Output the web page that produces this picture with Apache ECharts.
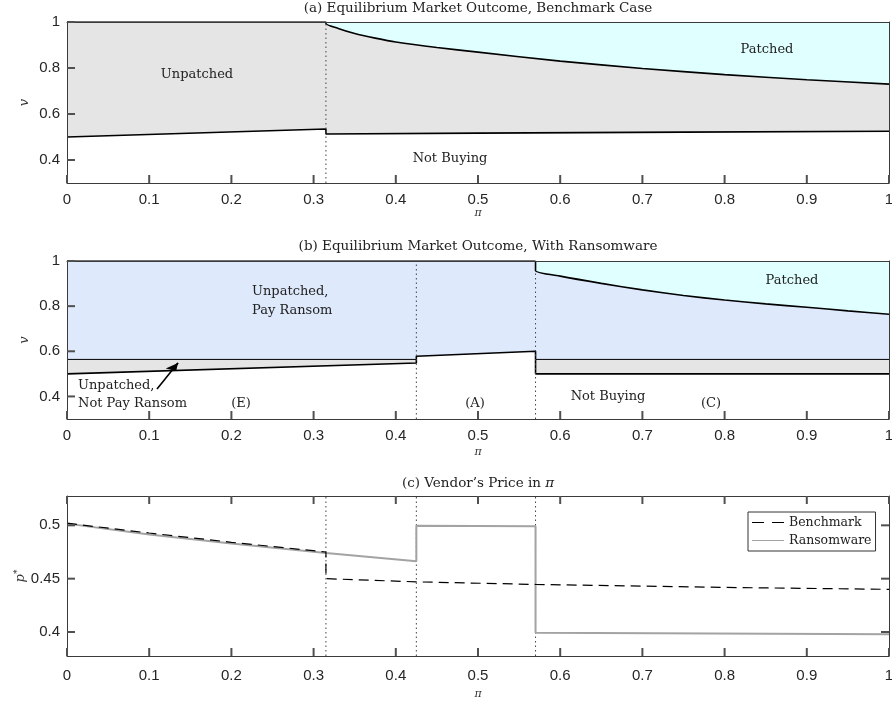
<!DOCTYPE html>
<html>
<head>
<meta charset="utf-8">
<script src="https://cdn.jsdelivr.net/npm/echarts@6/dist/echarts.min.js"></script>
<style>html,body{margin:0;padding:0;background:#fff}#c{width:892px;height:705px}</style>
</head>
<body>
<div id="c"></div>
<script>
// ---------- DATA ----------
// Panel (a): benchmark
const piA_cut = 0.315;
const piA_patch = [0.315, 0.315, 0.33, 0.35, 0.375, 0.4, 0.45, 0.5, 0.6, 0.7, 0.8, 0.9, 1.0];
const vA_patch  = [1.0, 0.994, 0.972, 0.950, 0.930, 0.913, 0.889, 0.869, 0.830, 0.798, 0.771, 0.749, 0.730];
const piA_low = [0, 0.315, 0.315, 0.5, 0.75, 1.0];
const vA_low  = [0.500, 0.535, 0.513, 0.517, 0.521, 0.525];

// Panel (b): with ransomware
const piB_cuts = [0.425, 0.57];
const piB_patch = [0.57, 0.57, 0.6, 0.65, 0.7, 0.75, 0.8, 0.85, 0.9, 0.95, 1.0];
const vB_patch  = [1.0, 0.957, 0.933, 0.901, 0.872, 0.847, 0.827, 0.810, 0.795, 0.779, 0.764];
const piB_thr1 = [0, 0.425];
const piB_thr2 = [0.57, 1.0];
const vB_thr = 0.564;
const piB_low = [0, 0.425, 0.425, 0.57, 0.57, 1.0];
const vB_low  = [0.500, 0.548, 0.578, 0.600, 0.500, 0.500];
const arrowFrom = [0.1095, 0.433];
const arrowTo   = [0.135, 0.548];

// Panel (c): vendor's price
const piC_bench = [0, 0.1, 0.2, 0.315, 0.315, 0.425, 0.57, 0.8, 1.0];
const pC_bench  = [0.502, 0.4928, 0.4841, 0.475, 0.450, 0.447, 0.4446, 0.4418, 0.440];
const piC_ransom = [0, 0.1, 0.2, 0.315, 0.425, 0.425, 0.57, 0.57, 1.0];
const pC_ransom  = [0.5016, 0.4915, 0.4830, 0.4741, 0.4664, 0.4997, 0.4992, 0.3993, 0.3978];
const piC_cuts = [0.315, 0.425, 0.57];

const xTicks = [0, 0.1, 0.2, 0.3, 0.4, 0.5, 0.6, 0.7, 0.8, 0.9, 1];
const vTicks = [0.4, 0.6, 0.8, 1];
const pTicks = [0.4, 0.45, 0.5];

// ---------- HELPERS ----------
const zip = (xs, ys) => xs.map((x, i) => [x, Array.isArray(ys) ? ys[i] : ys]);
const SERIF = 'DejaVu Serif';
const SANS = 'Liberation Sans';
const AX = '#3a3a3a';
const TK = '#505050';
const LBL = '#262626';
const C_GRAY = '#e5e5e5', C_CYAN = '#e0ffff', C_BLUE = '#dee9fc';
const TICK_LEN = 8;

function fill(xi, data, color, z, line, smooth) {
  return {
    type: 'line', xAxisIndex: xi, yAxisIndex: xi, data: data, showSymbol: false, symbol: 'none', silent: true,
    z: z, smooth: smooth || false, areaStyle: { color: color, opacity: 1, origin: 'start' },
    lineStyle: line ? line : { width: 0, opacity: 0 }, animation: false
  };
}
function line(xi, data, style, z, name) {
  const s = { type: 'line', xAxisIndex: xi, yAxisIndex: xi, data: data, showSymbol: false,
    symbol: 'none', silent: true, z: z, lineStyle: style, animation: false };
  if (name) { s.name = name; s.itemStyle = { color: style.color }; }
  return s;
}
// inside tick marks, placed through the axis scales
function ticks(g, vals, side, yrange) {
  const isX = side === 'bottom' || side === 'top';
  const data = vals.map(v => isX ? [v, side === 'bottom' ? yrange[0] : yrange[1]] : [side === 'left' ? 0 : 1, v]);
  return {
    type: 'custom', xAxisIndex: g, yAxisIndex: g, data: data, silent: true, z: 20, clip: false, animation: false,
    renderItem: function (params, api) {
      const p = api.coord([api.value(0), api.value(1)]);
      let dx = 0, dy = 0;
      if (side === 'bottom') dy = -TICK_LEN; else if (side === 'top') dy = TICK_LEN;
      else if (side === 'left') dx = TICK_LEN; else dx = -TICK_LEN;
      return { type: 'line', shape: { x1: p[0], y1: p[1], x2: p[0] + dx, y2: p[1] + dy },
        style: { stroke: TK, lineWidth: 2 } };
    }
  };
}
const dotted = { color: '#444', width: 1, type: [1.5, 3] };
const thick = { color: '#000', width: 1.6 };

const grids = [
  { left: 67, top: 22, width: 822, height: 161, outerBoundsMode: 'none', containLabel: false },
  { left: 67, top: 261, width: 822, height: 158, outerBoundsMode: 'none', containLabel: false },
  { left: 67, top: 496, width: 822, height: 160, outerBoundsMode: 'none', containLabel: false }
];
const yr = [[0.3, 1], [0.3, 1], [0.3775, 0.5275]];
const yt = [vTicks, vTicks, pTicks];
const xNameGap = [25, 28, 33];
const xLabelMargin = [9, 9, 12];

const xAxis = [], yAxis = [];
for (let g = 0; g < 3; g++) {
  xAxis.push({
    type: 'value', gridIndex: g, min: 0, max: 1, z: 10,
    name: 'π', nameLocation: 'middle', nameGap: xNameGap[g], nameMoveOverlap: false,
    nameTextStyle: { fontFamily: SERIF, fontStyle: 'italic', fontSize: 11, color: '#333' },
    axisLine: { show: true, onZero: false, lineStyle: { color: AX, width: 1 } },
    axisTick: { show: false },
    axisLabel: { show: true, fontFamily: SANS, fontSize: 15, color: LBL, margin: xLabelMargin[g], customValues: xTicks },
    splitLine: { show: false }
  });
  yAxis.push({
    type: 'value', gridIndex: g, min: yr[g][0], max: yr[g][1], z: 10,
    name: g === 2 ? '{i|p}{s|*}' : 'v', nameLocation: 'middle', nameGap: g === 2 ? 39 : 36, nameMoveOverlap: false,
    nameTextStyle: { fontFamily: SERIF, fontStyle: 'italic', fontSize: 13, color: '#333',
      rich: { i: { fontFamily: SERIF, fontStyle: 'italic', fontSize: 13, color: '#333' },
              s: { fontFamily: SERIF, fontSize: 9, color: '#333', verticalAlign: 'top', padding: [0, 0, 6, 0] } } },
    axisLine: { show: true, onZero: false, lineStyle: { color: AX, width: 1 } },
    axisTick: { show: false },
    axisLabel: { fontFamily: SANS, fontSize: 15, color: LBL, margin: 7, customValues: yt[g] },
    splitLine: { show: false }
  });
}
// mirror (box) axes
for (let g = 0; g < 3; g++) {
  xAxis.push({
    type: 'value', gridIndex: g, min: 0, max: 1, position: 'top', z: 10,
    axisLine: { show: true, onZero: false, lineStyle: { color: AX, width: 1 } },
    axisTick: { show: false }, axisLabel: { show: false }, splitLine: { show: false }
  });
  yAxis.push({
    type: 'value', gridIndex: g, min: yr[g][0], max: yr[g][1], position: 'right', z: 10,
    axisLine: { show: true, onZero: false, lineStyle: { color: AX, width: 1 } },
    axisTick: { show: false }, axisLabel: { show: false }, splitLine: { show: false }
  });
}

const series = [];
// ----- (a)
series.push(fill(0, [[piA_cut, 1], [1, 1]], C_CYAN, 1));
series.push(fill(0, [[0, 1]].concat(zip(piA_patch, vA_patch)), C_GRAY, 2, thick, 0.25));
series.push(fill(0, zip(piA_low, vA_low), '#ffffff', 3, thick));
series.push(line(0, [[piA_cut, 0.3], [piA_cut, 0.994]], dotted, 5));
// ----- (b)
series.push(fill(1, [[0, 1], [1, 1]], C_BLUE, 1));
series.push(fill(1, [[piB_cuts[1], 1], [1, 1]], C_CYAN, 2));
series.push(fill(1, zip(piB_patch, vB_patch), C_BLUE, 3, thick, 0.2));
series.push(fill(1, zip(piB_thr1, vB_thr), C_GRAY, 4, { color: '#000', width: 1 }));
series.push(fill(1, zip(piB_thr2, vB_thr), C_GRAY, 4, { color: '#000', width: 1 }));
series.push(fill(1, zip(piB_low, vB_low), '#ffffff', 5, thick));
series.push(line(1, [[0, 1], [piB_cuts[1], 1]], thick, 6));
piB_cuts.forEach((c, i) => series.push(line(1, [[c, 0.3], [c, i === 1 ? 0.957 : 1]], dotted, 7)));
// arrow: shaft + head
series.push(line(1, [arrowFrom, arrowTo], { color: '#000', width: 1.6 }, 9));
series.push({
  type: 'line', xAxisIndex: 1, yAxisIndex: 1, data: [], silent: true, z: 9, animation: false,
  markLine: { silent: true, animation: false, symbol: ['none', 'arrow'], symbolSize: [9, 12],
    label: { show: false }, lineStyle: { color: '#000', width: 1.6, type: 'solid' },
    data: [[{ coord: arrowFrom }, { coord: arrowTo }]] }
});
// ----- (c)
piC_cuts.forEach(c => series.push(line(2, [[c, 0.3775], [c, 0.5275]], dotted, 3)));
series.push(line(2, zip(piC_bench, pC_bench), { color: '#000', width: 1.2, type: [10, 6] }, 5, 'Benchmark'));
series.push(line(2, zip(piC_ransom, pC_ransom), { color: '#a3a3a3', width: 2 }, 4, 'Ransomware'));
// ----- ticks (bottom/left on all panels; full box on panel c)
for (let g = 0; g < 3; g++) {
  series.push(ticks(g, xTicks, 'bottom', yr[g]));
  series.push(ticks(g, yt[g], 'left', yr[g]));
}
series.push(ticks(2, xTicks, 'top', yr[2]));
series.push(ticks(2, yt[2], 'right', yr[2]));

function txt(x, y, s, align, size) {
  return { type: 'text', x: x, y: y, z: 100, silent: true,
    style: { text: s, fill: '#222', font: (size || 13) + 'px "' + SERIF + '"', align: align || 'center', verticalAlign: 'middle' } };
}
const richPi = { r: { fontFamily: SERIF, fontSize: 13.5, fill: '#222' }, i: { fontFamily: SERIF, fontStyle: 'italic', fontSize: 13.5, fill: '#222' } };
const graphic = [
  txt(478, 8, '(a) Equilibrium Market Outcome, Benchmark Case', 'center', 13.5),
  txt(197, 75, 'Unpatched'),
  txt(767, 50, 'Patched'),
  txt(450, 159, 'Not Buying'),
  txt(478, 246, '(b) Equilibrium Market Outcome, With Ransomware', 'center', 13.5),
  txt(252, 292, 'Unpatched,', 'left'),
  txt(252, 311, 'Pay Ransom', 'left'),
  txt(792, 281, 'Patched'),
  txt(78, 386, 'Unpatched,', 'left'),
  txt(78, 404, 'Not Pay Ransom', 'left'),
  txt(241, 404, '(E)'),
  txt(475, 404, '(A)'),
  txt(711, 404, '(C)'),
  txt(608, 397, 'Not Buying'),
  { type: 'text', x: 478, y: 483, z: 100, silent: true,
    style: { text: '{r|(c) Vendor\u2019s Price in }{i|π}', rich: richPi, align: 'center', verticalAlign: 'middle' } }
];

const chart = echarts.init(document.getElementById('c'), null, { renderer: 'canvas' });
chart.setOption({
  animation: false,
  backgroundColor: '#fff',
  grid: grids,
  xAxis: xAxis,
  yAxis: yAxis,
  legend: {
    data: [
      { name: 'Benchmark', icon: 'path://M0,0h12v1h-12zM20,0h12v1h-12z' },
      { name: 'Ransomware', icon: 'path://M0,0h32v1h-32z' }
    ],
    orient: 'vertical', left: 748, top: 512,
    itemWidth: 32, itemHeight: 1.3, itemGap: 5, padding: [4, 4, 4, 4],
    borderColor: '#333', borderWidth: 1, backgroundColor: '#fff', selectedMode: false,
    textStyle: { fontFamily: SERIF, fontSize: 12.5, color: '#222', padding: [1, 0, 1, 0] }
  },
  series: series,
  graphic: graphic
});
</script>
</body>
</html>
